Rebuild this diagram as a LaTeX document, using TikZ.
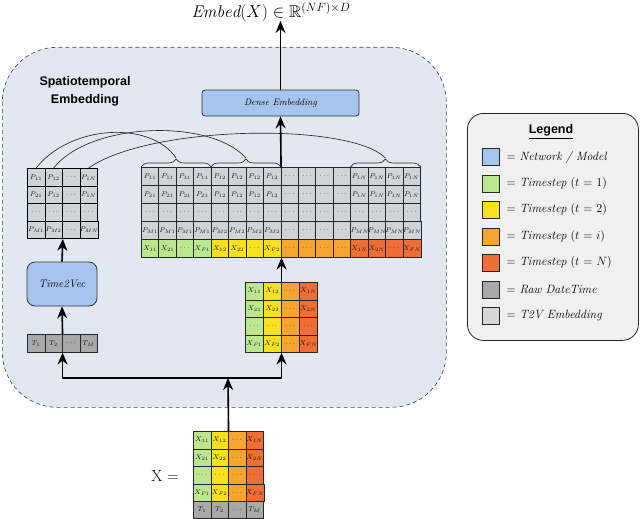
\documentclass[tikz,border=0pt]{standalone}
\usepackage{amssymb}
\usepackage{fontspec}
\newfontfamily\arialf{Liberation Sans}
\usetikzlibrary{arrows.meta,decorations.pathreplacing,calc}

\definecolor{bgblue}{HTML}{E1E8F2}
\definecolor{netblue}{HTML}{A6C4EE}
\definecolor{ts1}{HTML}{BDE78F}
\definecolor{ts2}{HTML}{F7E11E}
\definecolor{ts3}{HTML}{F5A530}
\definecolor{ts4}{HTML}{EF6E36}
\definecolor{rawgray}{HTML}{A9A9A9}
\definecolor{tvgray}{HTML}{D0D3D7}
\definecolor{legtv}{HTML}{D6D6D6}
\definecolor{leggray}{HTML}{F0F0F0}

\newcommand\cellrowfill[7]{%
  \foreach \t [count=\i] in {#7} {%
    \node[cellbase, minimum width=#4pt, minimum height=#5pt, fill=#6] (#1-\i) at ({#2+(\i-1)*#4},#3) {$\t$};}}

\begin{document}
\begin{tikzpicture}[x=1pt,y=-1pt,
  cellbase/.style={draw=black!85, line width=0.55pt, inner sep=0pt, anchor=north west,
    font=\fontsize{7}{8}\selectfont, text=black!90},
  arr/.style={line width=1.6pt, -{Stealth[length=12pt,width=10pt]}},
  curve/.style={line width=0.65pt, black!85},
  bracestyle/.style={decorate, decoration={brace, amplitude=8pt}, line width=0.65pt, black!85},
  netbox/.style={draw=black!80, fill=netblue, line width=0.8pt},
  swatch/.style={draw=black!85, line width=0.8pt, minimum width=17pt, minimum height=17pt, inner sep=0pt},
  legtext/.style={anchor=west, font=\fontsize{12}{14}\selectfont},
]
\useasboundingbox (0,0) rectangle (640,519);

% outer spatiotemporal box
\node[draw=black!75, dash pattern=on 4pt off 3pt, fill=bgblue, rounded corners=55pt,
  line width=0.6pt, minimum width=444pt, minimum height=360pt, anchor=north west, inner sep=0pt] (st) at (2,47) {};
\node[font=\arialf\bfseries\fontsize{12.5}{18}\selectfont, align=center] (stlabel) at (85,91) {Spatiotemporal\\Embedding};

% legend
\node[draw=black!85, fill=leggray, rounded corners=16pt, line width=0.8pt,
  minimum width=171pt, minimum height=227pt, anchor=north west, inner sep=0pt] (legend) at (467,113) {};
\node[font=\arialf\bfseries\fontsize{12.5}{14}\selectfont] (legtitle) at (551,132) {\underline{Legend}};
\node[swatch, fill=netblue] (s1) at (490.5,157) {};
\node[swatch, fill=ts1] (s2) at (490.5,184) {};
\node[swatch, fill=ts2] (s3) at (490.5,210) {};
\node[swatch, fill=ts3] (s4) at (490.5,237) {};
\node[swatch, fill=ts4] (s5) at (490.5,263) {};
\node[swatch, fill=rawgray] (s6) at (490.5,290) {};
\node[swatch, fill=legtv] (s7) at (490.5,316) {};
\node[legtext] (t1) at (503,157) {= \textit{Network / Model}};
\node[legtext] (t2) at (503,184) {= \textit{Timestep} ($t$ = 1)};
\node[legtext] (t3) at (503,210) {= \textit{Timestep} ($t$ = 2)};
\node[legtext] (t4) at (503,237) {= \textit{Timestep} ($t$ = $i$)};
\node[legtext] (t5) at (503,263) {= \textit{Timestep} ($t$ = $N$)};
\node[legtext] (t6) at (503,290) {= \textit{Raw DateTime}};
\node[legtext] (t7) at (503,316) {= \textit{T2V Embedding}};

% title
\node[anchor=base, font=\fontsize{17}{20}\selectfont] (title) at (271,17.5) {$\mathit{Embed}(X) \in \mathbb{R}^{(NF)\times D}$};
\coordinate (titlept) at (280.5,21);

% dense embedding
\node[netbox, rounded corners=3pt, minimum width=157pt, minimum height=26pt,
  font=\itshape\fontsize{9.5}{11}\selectfont] (dense) at (280.5,103) {Dense Embedding};

% time2vec
\node[netbox, rounded corners=8pt, minimum width=70pt, minimum height=44pt,
  font=\itshape\fontsize{11}{12}\selectfont] (t2v) at (62,284) {Time2Vec};

% left P matrix
\begin{scope}[cellbase/.append style={line width=0.8pt, draw=black}]
\cellrowfill{LP1}{27}{168}{17.5}{17.5}{tvgray}{P_{11},P_{12},\cdots,P_{1N}}
\cellrowfill{LP2}{27}{185.5}{17.5}{17.5}{tvgray}{P_{21},P_{12},\cdots,P_{1N}}
\cellrowfill{LP3}{27}{203}{17.5}{17.5}{tvgray}{\cdots,\cdots,\cdots,\cdots}
\cellrowfill{LP4}{27}{220.5}{17.5}{17.5}{tvgray}{P_{M1},P_{M2},\cdots,P_{MN}}
\end{scope}
% left T row
\cellrowfill{LT}{27}{334}{17.5}{18}{rawgray}{T_1,T_2,\cdots,T_M}

% small X matrix
\cellrowfill{SX1}{245}{282}{18}{17.5}{ts\i}{X_{11},X_{12},\cdots,X_{1N}}
\cellrowfill{SX2}{245}{299.5}{18}{17.5}{ts\i}{X_{21},X_{22},\cdots,X_{2N}}
\cellrowfill{SX3}{245}{317}{18}{17.5}{ts\i}{\cdots,\cdots,\cdots,\cdots}
\cellrowfill{SX4}{245}{334.5}{18}{17.5}{ts\i}{X_{F1},X_{F2},\cdots,X_{FN}}

% bottom X matrix
\cellrowfill{BX1}{193}{431}{17.5}{17.5}{ts\i}{X_{11},X_{12},\cdots,X_{1N}}
\cellrowfill{BX2}{193}{448.5}{17.5}{17.5}{ts\i}{X_{21},X_{22},\cdots,X_{2N}}
\cellrowfill{BX3}{193}{466}{17.5}{17.5}{ts\i}{\cdots,\cdots,\cdots,\cdots}
\cellrowfill{BX4}{193}{483.5}{17.5}{17.5}{ts\i}{X_{F1},X_{F2},\cdots,X_{FN}}
\cellrowfill{BT}{193}{501}{17.5}{17}{rawgray}{T_1,T_2,\cdots,T_M}
\node[font=\fontsize{16}{18}\selectfont] (xeq) at (165,476) {X =};

% big matrix
\cellrowfill{B1}{141}{167}{17.44}{18}{tvgray}{P_{11},P_{11},P_{11},P_{11},P_{12},P_{12},P_{12},P_{12},\cdots,\cdots,\cdots,\cdots,P_{1N},P_{1N},P_{1N},P_{1N}}
\cellrowfill{B2}{141}{185}{17.44}{18}{tvgray}{P_{21},P_{21},P_{21},P_{21},P_{12},P_{12},P_{12},P_{12},\cdots,\cdots,\cdots,\cdots,P_{1N},P_{1N},P_{1N},P_{1N}}
\cellrowfill{B3}{141}{203}{17.44}{18}{tvgray}{\cdots,\cdots,\cdots,\cdots,\cdots,\cdots,\cdots,\cdots,\cdots,\cdots,\cdots,\cdots,\cdots,\cdots,\cdots,\cdots}
\cellrowfill{B4}{141}{221}{17.44}{18}{tvgray}{P_{M1},P_{M1},P_{M1},P_{M1},P_{M2},P_{M2},P_{M2},P_{M2},\cdots,\cdots,\cdots,\cdots,P_{MN},P_{MN},P_{MN},P_{MN}}
\foreach \t [count=\i] in {X_{11},X_{21},\cdots,X_{F1},X_{12},X_{22},\cdots,X_{F2},\cdots,\cdots,\cdots,\cdots,X_{1N},X_{2N},\cdots,X_{FN}} {
  \pgfmathtruncatemacro\g{int((\i-1)/4)+1}
  \node[cellbase, minimum width=17.44pt, minimum height=18pt, fill=ts\g] (B5-\i) at ({141+(\i-1)*17.44},239) {$\t$};
}

% braces
\draw[bracestyle] (B1-1.north west) -- (B1-4.north east);
\draw[bracestyle] (B1-5.north west) -- (B1-8.north east);
\draw[bracestyle] (B1-13.north west) -- (B1-16.north east);
\coordinate (br1) at ($(B1-1.north west)!0.5!(B1-4.north east)+(0,-9)$);
\coordinate (br2) at ($(B1-5.north west)!0.5!(B1-8.north east)+(0,-9)$);
\coordinate (br3) at ($(B1-13.north west)!0.5!(B1-16.north east)+(0,-9)$);

% curves
\draw[curve] (LP1-1.north) .. controls (70,125) and (150,120) .. (br1);
\draw[curve] (LP1-2.north) .. controls (90,122) and (210,118) .. (br2);
\draw[curve] (LP1-4.north) .. controls (150,125) and (350,122) .. (br3);

% arrows
\coordinate (jn) at (228,378);
\draw[arr] (BX1-2.north east) -- (jn);
\draw[arr] (jn) -| (LT-2.south east);
\draw[arr] (jn) -| (SX4-2.south east);
\draw[arr] (LT-2.north east) -- (t2v.south);
\draw[arr] (t2v.north) -- (LP4-2.south east);
\draw[arr] (SX1-2.north east) -- (SX1-2.north east |- B5-8.south);
\draw[arr] (B1-8.north east) -- (dense.south);
\draw[arr] (dense.north) -- (titlept);
\end{tikzpicture}
\end{document}
